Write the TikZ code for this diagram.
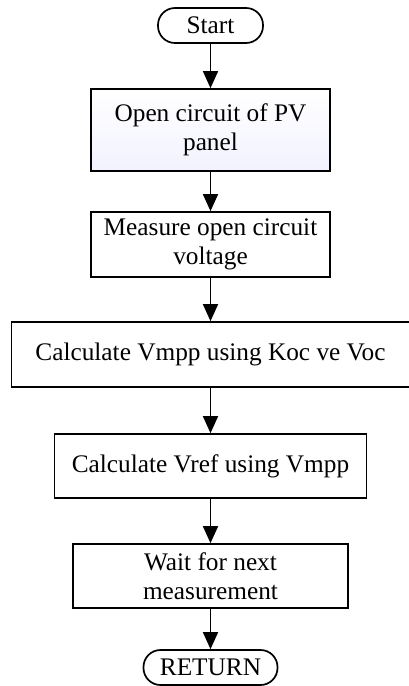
\documentclass[tikz,border=0pt]{standalone}
\usepackage{fontspec}
\setmainfont{Liberation Serif}
\usetikzlibrary{arrows.meta}
\begin{document}
\begin{tikzpicture}[x=1pt,y=1pt,
  every node/.style={font=\fontsize{25.3}{29.5}\selectfont, align=center, inner sep=0pt},
  term/.style={draw, line width=1.7pt, rounded corners=17pt, minimum height=35pt},
  proc/.style={draw, line width=1.7pt},
  flow/.style={draw, line width=1.7pt, -{Triangle[length=17pt,width=15pt]}}
]
\useasboundingbox (0,0) rectangle (409,-686);
\node[term, minimum width=105pt] (start) at (210.5,-25.5) {Start};
\node[proc, top color=white, bottom color=blue!5, minimum width=239pt, minimum height=82pt] (b1) at (210.5,-130) {Open circuit of PV\\panel};
\node[proc, minimum width=239pt, minimum height=65pt] (b2) at (210.5,-244.5) {Measure open circuit\\voltage};
\node[proc, minimum width=398pt, minimum height=65pt] (b3) at (210.5,-354.5) {Calculate Vmpp using Koc ve Voc};
\node[proc, minimum width=312pt, minimum height=64pt] (b4) at (210.5,-466) {Calculate Vref using Vmpp};
\node[proc, minimum width=275pt, minimum height=64pt] (b5) at (210.5,-576) {Wait for next\\measurement};
\node[term, minimum width=134pt] (ret) at (210.5,-667.5) {RETURN};
\draw[flow] (start) -- (b1);
\draw[flow] (b1) -- (b2);
\draw[flow] (b2) -- (b3);
\draw[flow] (b3) -- (b4);
\draw[flow] (b4) -- (b5);
\draw[flow] (b5) -- (ret);
\end{tikzpicture}
\end{document}
